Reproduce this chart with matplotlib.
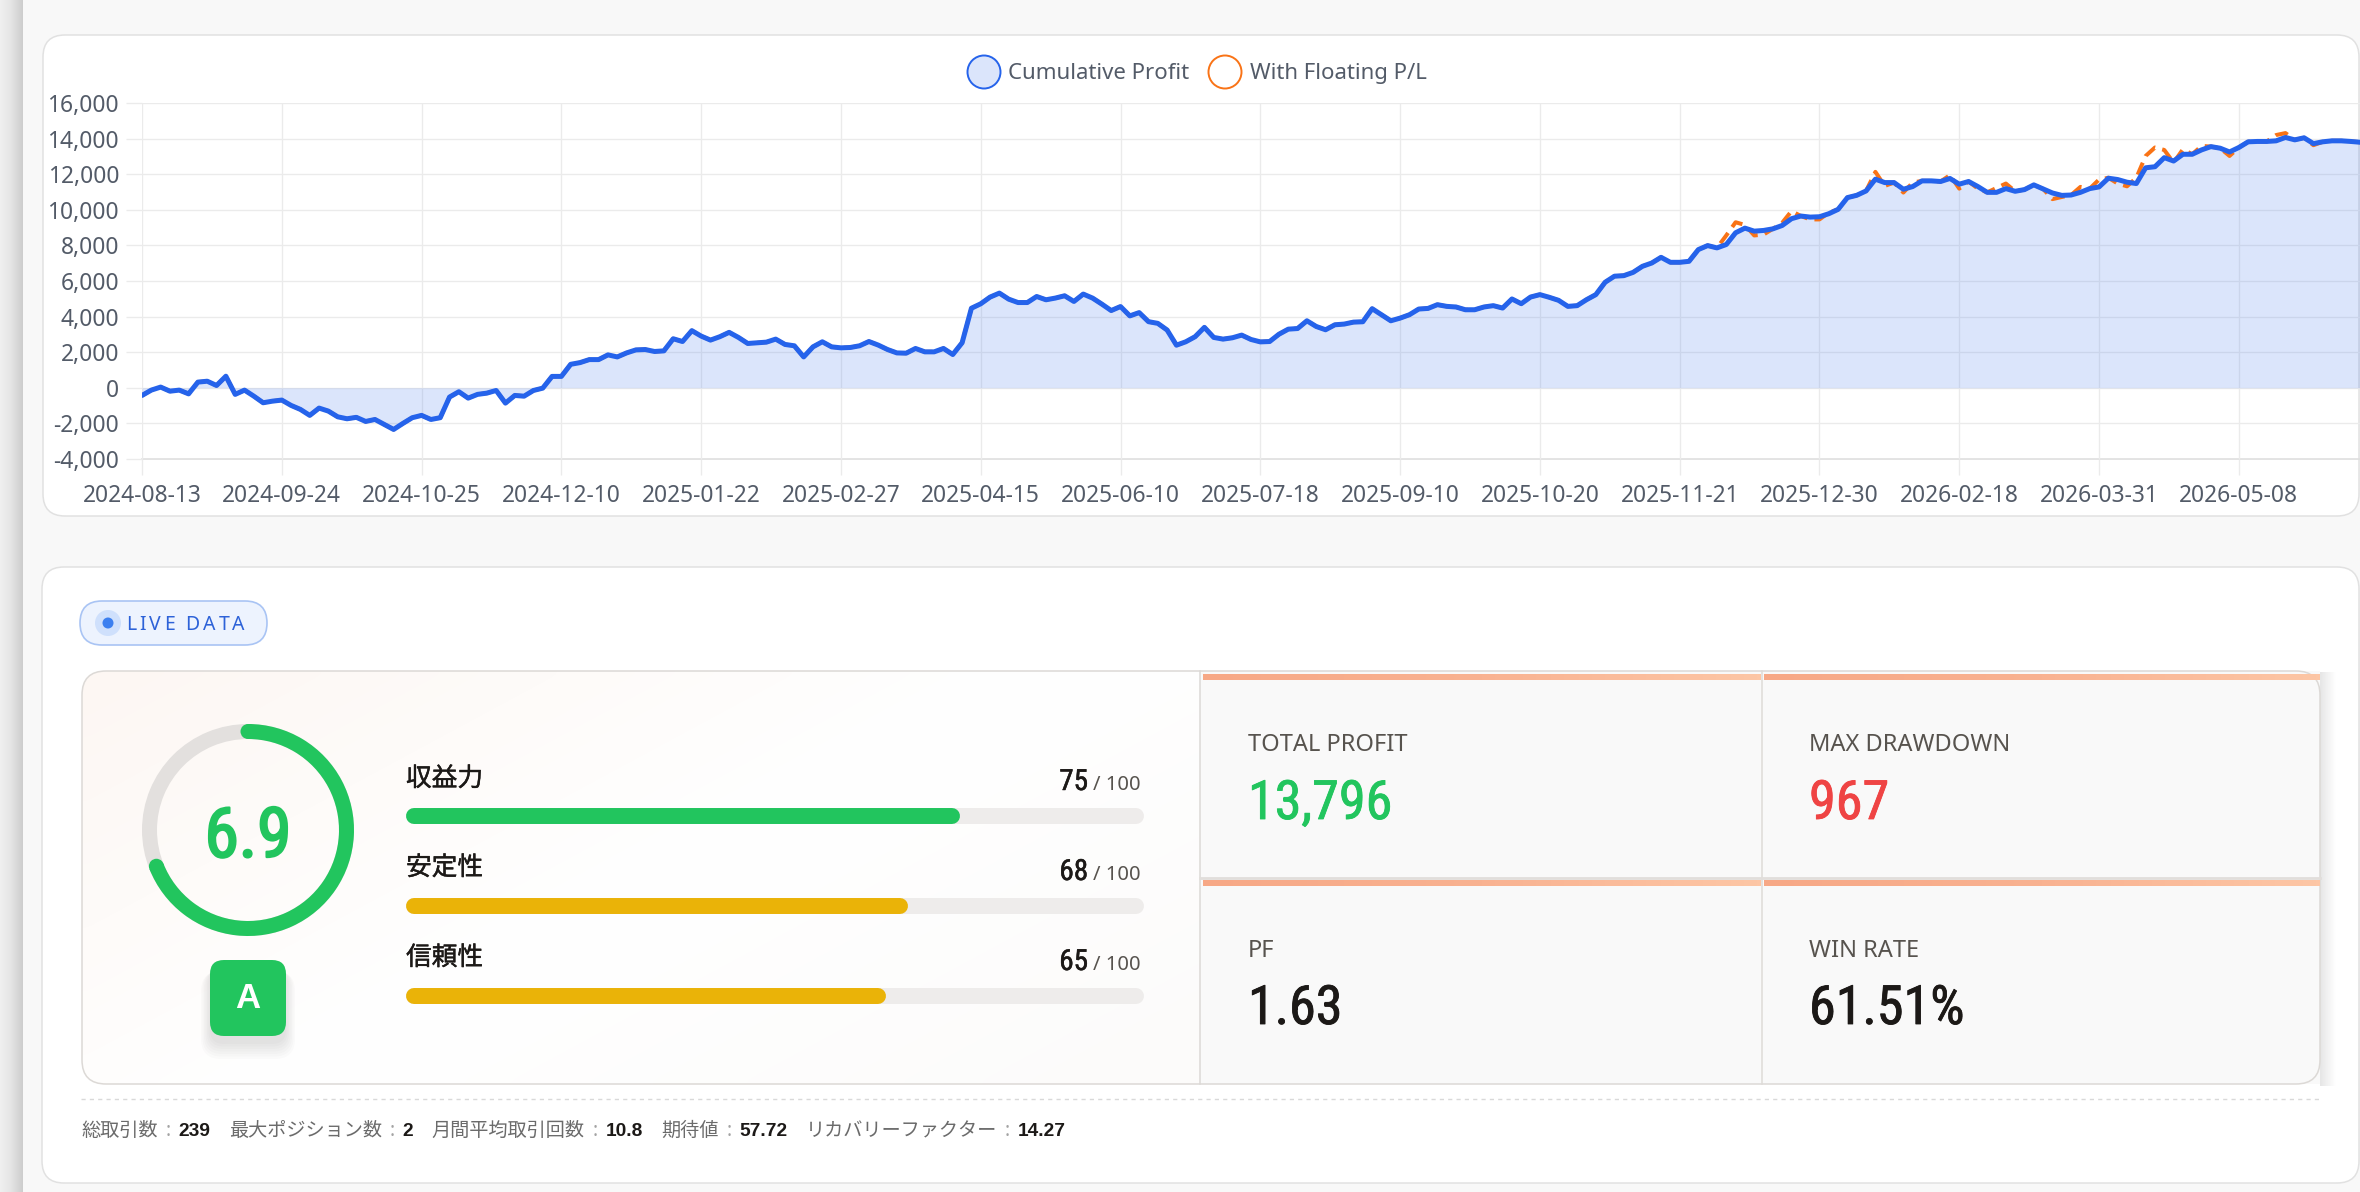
import numpy as np
import matplotlib
matplotlib.use("Agg")
import matplotlib.pyplot as plt
from matplotlib import font_manager as fm
from matplotlib import patheffects as pe
from matplotlib.patches import FancyBboxPatch, Circle, Wedge, Rectangle
from matplotlib.ticker import FixedLocator, FuncFormatter
from matplotlib.colors import LinearSegmentedColormap, to_rgb

# ---------------- data ----------------
cumulative_profit = [
    -430, -130, 40, -190, -130, -340, 320, 370, 130, 650,
    -370, -130, -470, -840, -750, -690, -990, -1215, -1550, -1140,
    -1310, -1630, -1740, -1660, -1890, -1780, -2060, -2340, -2000, -1680,
    -1550, -1780, -1680, -520, -220, -580, -370, -300, -150, -860,
    -430, -470, -150, -20, 640, 640, 1320, 1415, 1585, 1585,
    1850, 1735, 1960, 2130, 2150, 2040, 2075, 2755, 2600, 3210,
    2905, 2680, 2870, 3115, 2830, 2490, 2530, 2565, 2735, 2435,
    2360, 1735, 2300, 2585, 2300, 2245, 2265, 2360, 2600, 2400,
    2150, 1960, 1945, 2210, 2020, 2020, 2210, 1870, 2530, 4470,
    4720, 5095, 5320, 4980, 4790, 4790, 5130, 4945, 5040, 5170,
    4850, 5265, 5040, 4700, 4340, 4565, 4040, 4225, 3715, 3620,
    3245, 2395, 2585, 2870, 3395, 2830, 2735, 2810, 2960, 2715,
    2580, 2600, 3010, 3295, 3330, 3765, 3445, 3260, 3540, 3580,
    3690, 3710, 4445, 4105, 3765, 3915, 4105, 4425, 4460, 4670,
    4575, 4540, 4385, 4385, 4540, 4615, 4480, 4990, 4725, 5100,
    5235, 5085, 4915, 4575, 4615, 4950, 5235, 5930, 6270, 6300,
    6485, 6825, 7010, 7330, 7050, 7050, 7105, 7765, 7990, 7860,
    8050, 8710, 8970, 8800, 8840, 8930, 9120, 9500, 9650, 9590,
    9610, 9780, 10025, 10685, 10815, 11060, 11720, 11530, 11530, 11155,
    11305, 11625, 11625, 11590, 11760, 11440, 11590, 11305, 10980, 10980,
    11190, 11040, 11135, 11400, 11170, 10945, 10810, 10830, 10980, 11190,
    11285, 11775, 11700, 11550, 11475, 12360, 12420, 12930, 12740, 13120,
    13120, 13365, 13550, 13460, 13250, 13500, 13820, 13840, 13840, 13875,
    14065, 13930, 14045, 13720, 13820, 13875, 13875, 13840, 13796,
]
# points where "With Floating P/L" differs from the closed-trade curve
floating_idx = [170, 171, 172, 173, 174, 176, 177, 179, 180, 181, 186, 187, 189, 190,
                194, 195, 197, 199, 200, 205, 206, 208, 210, 211, 212, 213, 214, 215,
                216, 217, 218, 219, 221, 224, 229, 230, 233]
floating_val = [8560, 9300, 9150, 8560, 8610, 9270, 9930, 9460, 9460, 9840, 12130, 11340,
                10970, 11530, 11950, 11190, 11190, 11230, 11475, 10600, 10720, 11285,
                11700, 11800, 11475, 11320, 11800, 13025, 13500, 13360, 12650, 13400,
                13590, 13025, 14200, 14310, 13630]
date_labels = ["2024-08-13", "2024-09-24", "2024-10-25", "2024-12-10", "2025-01-22",
               "2025-02-27", "2025-04-15", "2025-06-10", "2025-07-18", "2025-09-10",
               "2025-10-20", "2025-11-21", "2025-12-30", "2026-02-18", "2026-03-31",
               "2026-05-08"]
label_every = 15
series_names = ["Cumulative Profit", "With Floating P/L"]

score = 6.9
grade = "A"
sub_names = ["収益力", "安定性", "信頼性"]
sub_scores = [75, 68, 65]
sub_colors = ["#22c55e", "#eab308", "#eab308"]
metric_names = ["TOTAL PROFIT", "MAX DRAWDOWN", "PF", "WIN RATE"]
metric_values = ["13,796", "967", "1.63", "61.51%"]
metric_colors = ["#22c55e", "#ef4444", "#1c1917", "#1c1917"]
stat_names = ["総取引数", "最大ポジション数", "月間平均取引回数", "期待値", "リカバリーファクター"]
stat_values = ["239", "2", "10.8", "57.72", "14.27"]

floating_pl = list(cumulative_profit)
for i, v in zip(floating_idx, floating_val):
    floating_pl[i] = v

# ---------------- fonts ----------------
plt.rcParams["font.family"] = ["Noto Sans", "Noto Sans CJK JP", "DejaVu Sans"]
plt.rcParams["axes.unicode_minus"] = False
_entries = fm.fontManager.ttflist
_names = {f.name for f in _entries}
NARROW = dict(family=["Noto Sans"])
HAS_NARROW = False
if "Liberation Sans Narrow" in _names:
    NARROW = dict(family=["Liberation Sans Narrow"])
    HAS_NARROW = True
else:
    for cand in ["Roboto Condensed", "Noto Sans Condensed", "Open Sans Condensed"]:
        if cand in _names:
            NARROW = dict(family=[cand]); HAS_NARROW = True; break
    if not HAS_NARROW:
        for fam in ["Noto Sans", "Open Sans", "DejaVu Sans", "Roboto"]:
            if any(f.name == fam and "condensed" in str(f.stretch) for f in _entries):
                NARROW = dict(family=[fam], fontstretch="condensed"); HAS_NARROW = True; break
CJK = ["Noto Sans CJK JP", "DejaVu Sans"]
BOLDSANS = ["Liberation Sans", "DejaVu Sans"]


def semibold(color, w=1.1):
    return [pe.withStroke(linewidth=w, foreground=color)]


# ---------------- figure ----------------
W, H, DPI = 2360, 1192, 100
fig = plt.figure(figsize=(W / DPI, H / DPI), dpi=DPI)
fig.patch.set_facecolor("#f8f8f8")
bg = fig.add_axes([0, 0, 1, 1])
bg.set_zorder(0)
bg.axis("off")
renderer = fig.canvas.get_renderer()


def px_axes(x0, y0, x1, y1):
    return fig.add_axes([x0 / W, 1 - y1 / H, (x1 - x0) / W, (y1 - y0) / H])


def rrect(x, y, w, h, r, fc, ec="none", lw=0.0, z=1.0, alpha=1.0):
    p = FancyBboxPatch((x, y), w, h, boxstyle=f"round,pad=0,rounding_size={r}",
                       fc=fc, ec=ec, lw=lw, zorder=z, alpha=alpha)
    bg.add_patch(p)
    return p


def txt(x, y, s, size, color, ha="left", va="baseline", weight="normal", z=6, **kw):
    return bg.text(x, y, s, fontsize=size, color=color, ha=ha, va=va,
                   fontweight=weight, zorder=z, **kw)


def width_of(t):
    return t.get_window_extent(renderer).width


# left window edge strip
strip = LinearSegmentedColormap.from_list("strip", ["#f0f0f0", "#e4e4e4", "#cdcdcd"])
bg.imshow(np.linspace(0, 1, 64).reshape(1, -1), cmap=strip, extent=[0, 23, H, 0],
          aspect="auto", zorder=0.5, interpolation="bicubic")

# cards
rrect(43, 35, 2316, 481, 22, "white", "#e1e1e1", lw=1.1, z=1)
rrect(42, 567, 2317, 616, 22, "white", "#e1e1e1", lw=1.1, z=1)

# ---------------- line chart ----------------
N = len(cumulative_profit)
xs = np.arange(N)
ax = px_axes(142, 103, 2360, 459)
ax.set_zorder(2)
ax.patch.set_alpha(0)
ax.set_xlim(0, N - 1)
ax.set_ylim(-4000, 16000)
ax.yaxis.set_major_locator(FixedLocator(np.arange(-4000, 16001, 2000)))
ax.yaxis.set_major_formatter(FuncFormatter(lambda v, p: f"{int(v):,}"))
tick_pos = list(range(0, N, label_every))[:len(date_labels)]
ax.set_xticks(tick_pos)
ax.set_xticklabels(date_labels)
for s in ax.spines.values():
    s.set_visible(False)
ax.grid(True, color="#ebebeb", lw=0.95, zorder=0)
ax.set_axisbelow(True)
ax.tick_params(axis="both", length=11.5, width=0.95, color="#ebebeb",
               labelsize=16.4, labelcolor="#535b68")
ax.tick_params(axis="y", pad=5)
ax.tick_params(axis="x", pad=6.5)
ax.axhline(-4000, color="#dedede", lw=1.2, zorder=0.5, clip_on=False)

ax.fill_between(xs, cumulative_profit, 0, color="#2563eb", alpha=0.16, lw=0, zorder=1)
ax.plot(xs, floating_pl, color="#f97316", lw=2.9, dashes=(3.2, 1.8),
        dash_joinstyle="round", zorder=2)
ax.plot(xs, cumulative_profit, color="#2563eb", lw=3.6, solid_joinstyle="round",
        solid_capstyle="round", zorder=3)

# legend
bg.add_patch(Circle((984, 72), 16.5, fc="#dbe5fb", ec="#2563eb", lw=1.4, zorder=5))
txt(1008, 79, series_names[0], 16, "#535b68")
bg.add_patch(Circle((1225, 72), 16.5, fc="white", ec="#f97316", lw=1.4, zorder=5))
txt(1250, 79, series_names[1], 16, "#535b68")

# ---------------- lower panel ----------------
# LIVE DATA pill
rrect(80, 601, 187, 44, 22, "#edf3fe", "#a9c4f4", lw=1.2, z=3)
bg.add_patch(Circle((108, 623), 13, fc="#cfe0fc", ec="none", zorder=4))
bg.add_patch(Circle((108, 623), 5.5, fc="#3b7ff0", ec="none", zorder=5))
cx = 126
for ch in "LIVE DATA":
    if ch == " ":
        cx += 7
        continue
    t = txt(cx, 630, ch, 14, "#2d62d8")
    cx += width_of(t) + 3.3

# container
rrect(82, 671, 2238, 413, 24, "#f9f9f9", "none", z=2)
score_patch = rrect(82, 671, 1140, 413, 24, "#fdfcfb", "none", z=2.1)
# subtle warm gradient in score panel
gy, gx = np.mgrid[0:1:60j, 0:1:120j]
tt = np.clip((gx * 0.6 + gy * 0.4), 0, 1)
c0, c1, c2 = np.array(to_rgb("#fdf7f3")), np.array(to_rgb("#ffffff")), np.array(to_rgb("#fcfbfa"))
img = np.where(tt[..., None] < 0.5, c0 + (c1 - c0) * (tt[..., None] / 0.5),
               c1 + (c2 - c1) * ((tt[..., None] - 0.5) / 0.5))
im = bg.imshow(img, extent=[82, 1222, 1084, 671], aspect="auto", zorder=2.2,
               interpolation="bicubic")
im.set_clip_path(score_patch)
bg.add_patch(Rectangle((1200, 671), 1120, 413, fc="#f9f9f9", ec="none", zorder=2.3))
# right shadow of the metrics block
shadow = LinearSegmentedColormap.from_list("sh", ["#e6e6e6", "#ffffff"])
bg.imshow(np.linspace(0, 1, 32).reshape(1, -1), cmap=shadow, extent=[2320, 2336, 1086, 672],
          aspect="auto", zorder=2.0, interpolation="bicubic")
# outline
rrect(82, 671, 2238, 413, 24, "none", "#dcd9d6", lw=1.1, z=4)
bg.plot([1200, 1200], [671, 1084], color="#dcd9d6", lw=1.1, zorder=4)
bg.plot([1762, 1762], [671, 1084], color="#dedbd8", lw=1.1, zorder=4)
bg.plot([1200, 2320], [877.5, 877.5], color="#e1dedb", lw=2.0, zorder=4)
og = LinearSegmentedColormap.from_list("og", ["#f7a886", "#f9b291", "#fdc6a5"])
for (x0, x1, y0, y1) in [(1203, 1761, 674, 680), (1764, 2320, 674, 680),
                         (1203, 1761, 880, 886), (1764, 2320, 880, 886)]:
    bg.imshow(np.linspace(0, 1, 128).reshape(1, -1), cmap=og, extent=[x0, x1, y1, y0],
              aspect="auto", zorder=4.5, interpolation="bicubic")

# score ring
rc = (248, 830)
R_out, ring_w = 106, 15
bg.add_patch(Wedge(rc, R_out, 0, 360, width=ring_w, fc="#e3e0de", ec="none", zorder=5))
th1 = -90
th2 = -90 + 360 * score / 10.0
bg.add_patch(Wedge(rc, R_out, th1, th2, width=ring_w, fc="#22c55e", ec="none", zorder=6))
rm = R_out - ring_w / 2
for th in (th1, th2):
    bg.add_patch(Circle((rc[0] + rm * np.cos(np.radians(th)), rc[1] + rm * np.sin(np.radians(th))),
                        ring_w / 2, fc="#22c55e", ec="none", zorder=6))
txt(rc[0], 857, f"{score}", 50 if HAS_NARROW else 44, "#22c55e", ha="center",
    path_effects=semibold("#22c55e", 1.6), **NARROW)

# grade badge with soft shadow
for k in range(7):
    rrect(210 - k * 1.5, 968 + k * 0.5, 76 + k * 3, 76 + k * 2, 14 + k,
          "#000000", z=5, alpha=0.016)
rrect(210, 960, 76, 76, 14, "#22c55e", z=6)
txt(248, 999, grade, 25, "white", ha="center", va="center", weight="bold", family=BOLDSANS)

# sub-score bars
bx = px_axes(406, 780, 1144, 1015)
bx.set_zorder(3)
bx.patch.set_alpha(0)
bx.axis("off")
bx.set_xlim(0, 100)
bx.set_ylim(1015, 780)
bar_centers = [816, 906, 996]
cap = 8 / 738 * 100
for yc, v, c in zip(bar_centers, sub_scores, sub_colors):
    bx.plot([cap, 100 - cap], [yc, yc], color="#eeeceb", lw=11.5, solid_capstyle="round")
    bx.plot([cap, v - cap], [yc, yc], color=c, lw=11.5, solid_capstyle="round")

label_centers = [779, 868, 958]
value_baselines = [790, 880, 970]
for name, v, lc, vb in zip(sub_names, sub_scores, label_centers, value_baselines):
    txt(406, lc, name, 18.5, "#1c1917", va="center", family=CJK,
        path_effects=semibold("#1c1917", 0.3))
    txt(1088, vb, f"{v}", 21, "#1c1917", ha="right",
        path_effects=semibold("#1c1917", 0.35), **NARROW)
    txt(1093, vb, "/ 100", 14.5, "#57534e")

# metric cards
mpos = [(1248, 751, 819), (1809, 751, 819), (1248, 957, 1024), (1809, 957, 1024)]
for (mx, lb, vb), nm, val, col in zip(mpos, metric_names, metric_values, metric_colors):
    txt(mx, lb, nm, 17, "#57534e")
    txt(mx, vb, val, 39 if HAS_NARROW else 33, col,
        path_effects=semibold(col, 0.6), **NARROW)

# bottom stats line
bg.plot([81, 2320], [1099, 1099], color="#d9d9d9", lw=1.0, dashes=(3, 3), zorder=4)
cx = 81
for nm, val in zip(stat_names, stat_values):
    t = txt(cx, 1136, nm, 13.8, "#6b6b6b", family=CJK)
    cx += width_of(t) + 8
    t = txt(cx, 1136, ":", 13.8, "#a3a3a3")
    cx += width_of(t) + 8
    t = txt(cx, 1136, val, 13.8, "#1c1917", weight="bold", family=BOLDSANS)
    cx += width_of(t) + 18

bg.set_xlim(0, W)
bg.set_ylim(H, 0)

fig.savefig("out.png", dpi=DPI, facecolor=fig.get_facecolor())
